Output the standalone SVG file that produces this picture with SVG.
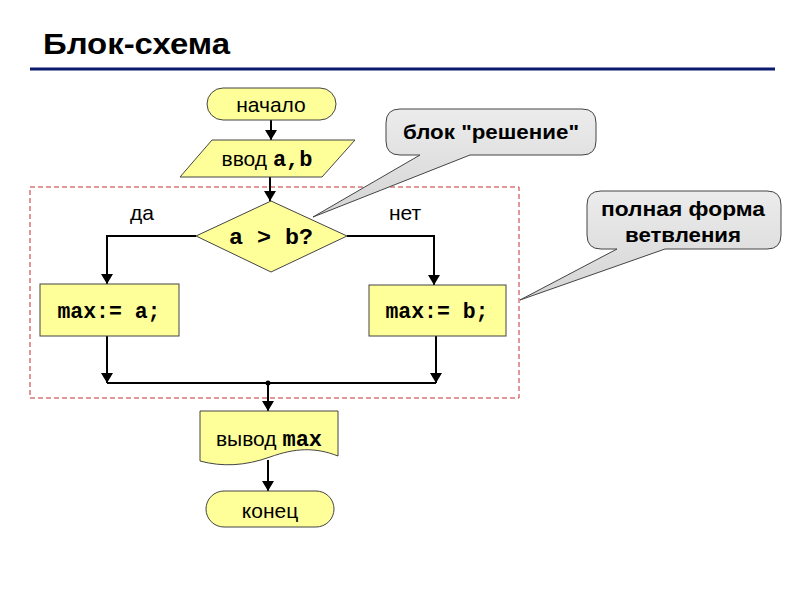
<svg xmlns="http://www.w3.org/2000/svg" width="800" height="600" viewBox="0 0 800 600">
<defs>
<marker id="arr" viewBox="0 0 10 12" refX="10" refY="6" markerWidth="10" markerHeight="12" markerUnits="userSpaceOnUse" orient="auto">
<path d="M0,0 L10,6 L0,12 Z" fill="#000"/>
</marker>
<linearGradient id="bub" x1="0" y1="0" x2="0" y2="1">
<stop offset="0" stop-color="#ececec"/>
<stop offset="1" stop-color="#d4d4d4"/>
</linearGradient>
</defs>
<style>
.shape{fill:#ffff99;stroke:#444;stroke-width:1}
.bubble{fill:url(#bub);stroke:#444;stroke-width:1}
.conn{fill:none;stroke:#000;stroke-width:2}
.sans{font-family:"Liberation Sans",Arial,sans-serif;font-size:21px;fill:#000}
.mono{font-family:"Liberation Mono","Courier New",monospace;font-weight:bold;font-size:22px;fill:#000}
.bold{font-family:"Liberation Sans",Arial,sans-serif;font-weight:bold;font-size:20px;fill:#000}
</style>
<rect width="800" height="600" fill="#fff"/>
<text x="43" y="54" font-family="Liberation Sans,Arial,sans-serif" font-weight="bold" font-size="30" textLength="187" lengthAdjust="spacingAndGlyphs">Блок-схема</text>
<line x1="30" y1="69" x2="775" y2="69" stroke="#0a1a6e" stroke-width="3"/>

<rect x="30" y="187" width="489" height="211" fill="none" stroke="#c03030" stroke-width="1" stroke-dasharray="5,3"/>

<g id="connectors">
<line class="conn" x1="271" y1="120" x2="271" y2="140" marker-end="url(#arr)"/>
<line class="conn" x1="270" y1="177" x2="270" y2="201" marker-end="url(#arr)"/>
<polyline class="conn" points="196,236 107,236 107,284" marker-end="url(#arr)"/>
<polyline class="conn" points="347,236 434,236 434,285" marker-end="url(#arr)"/>
<line class="conn" x1="107" y1="336" x2="107" y2="383" marker-end="url(#arr)"/>
<line class="conn" x1="436" y1="336" x2="436" y2="383" marker-end="url(#arr)"/>
<line class="conn" x1="107" y1="383" x2="436" y2="383"/>
<circle cx="268" cy="383" r="2.5" fill="#000"/>
<line class="conn" x1="268" y1="383" x2="268" y2="411" marker-end="url(#arr)"/>
<line class="conn" x1="268" y1="460" x2="268" y2="491" marker-end="url(#arr)"/>
</g>

<g id="start">
<rect class="shape" x="207" y="88" width="129" height="32" rx="16" ry="16"/>
<text class="sans" x="271" y="112" text-anchor="middle">начало</text>
</g>

<g id="input">
<polygon class="shape" points="212,140 355,140 322,177 180,177"/>
<text class="sans" x="267" y="166" text-anchor="middle">ввод <tspan class="mono">a,b</tspan></text>
</g>

<g id="decision">
<polygon class="shape" points="271,201 347,236 271,272 196,236"/>
<text class="mono" x="271" y="244" text-anchor="middle" textLength="84" lengthAdjust="spacingAndGlyphs">a &gt; b?</text>
</g>

<text class="sans" x="142" y="220" text-anchor="middle" font-size="17">да</text>
<text class="sans" x="405" y="220" text-anchor="middle" font-size="17">нет</text>

<g id="assignA">
<rect class="shape" x="40" y="284" width="139" height="52"/>
<text class="mono" x="109" y="318" text-anchor="middle" textLength="103" lengthAdjust="spacingAndGlyphs">max:= a;</text>
</g>

<g id="assignB">
<rect class="shape" x="369" y="285" width="137" height="51"/>
<text class="mono" x="437" y="318" text-anchor="middle" textLength="103" lengthAdjust="spacingAndGlyphs">max:= b;</text>
</g>

<g id="output">
<path class="shape" d="M200,411 H338 V456 C315,447 295,448 270,457 C245,466 222,467 200,461 Z"/>
<text class="sans" x="269" y="446" text-anchor="middle">вывод <tspan class="mono">max</tspan></text>
</g>

<g id="end">
<rect class="shape" x="206" y="491" width="128" height="36" rx="18" ry="18"/>
<text class="sans" x="270" y="518" text-anchor="middle">конец</text>
</g>

<g id="callout1">
<path class="bubble" d="M400,109 H582 Q596,109 596,123 V141 Q596,155 582,155 H470 L313,217 L420,155 H400 Q386,155 386,141 V123 Q386,109 400,109 Z"/>
<text class="bold" x="491" y="139" text-anchor="middle" textLength="176" lengthAdjust="spacingAndGlyphs">блок "решение"</text>
</g>

<g id="callout2">
<path class="bubble" d="M601,191 H767 Q781,191 781,205 V235 Q781,249 767,249 H665 L520,300 L617,249 H601 Q587,249 587,235 V205 Q587,191 601,191 Z"/>
<text class="bold" x="683" y="216" text-anchor="middle" textLength="164" lengthAdjust="spacingAndGlyphs">полная форма</text>
<text class="bold" x="683" y="242" text-anchor="middle" textLength="116" lengthAdjust="spacingAndGlyphs">ветвления</text>
</g>
</svg>
